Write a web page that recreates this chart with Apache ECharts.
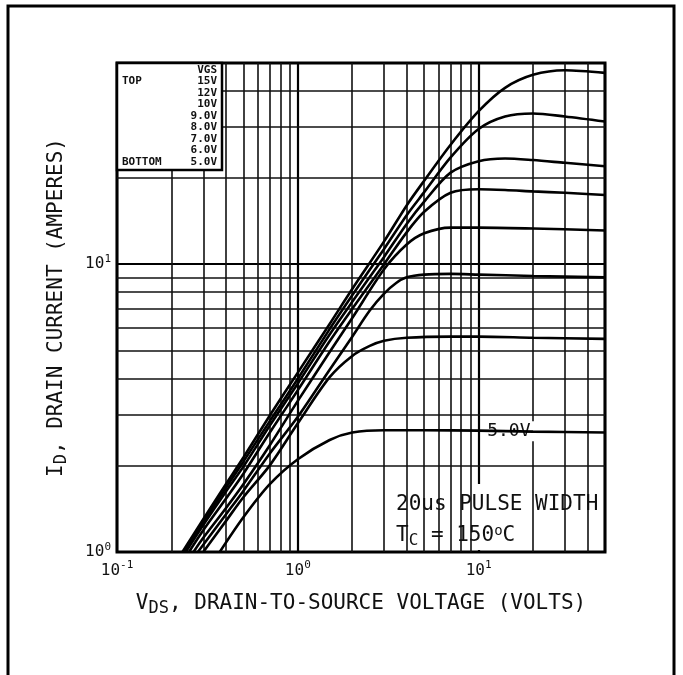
<!DOCTYPE html>
<html>
<head>
<meta charset="utf-8">
<script src="https://cdn.jsdelivr.net/npm/echarts@6/dist/echarts.min.js"></script>
<style>
  html, body { margin: 0; padding: 0; background: #fff; }
  #chart { width: 683px; height: 675px; }
</style>
</head>
<body>
<div id="chart"></div>
<script>
// minor grid lines (log decades are drawn by the axes)
const vdsGrid = [0.2, 0.3, 0.4, 0.5, 0.6, 0.7, 0.8, 0.9, 2, 3, 4, 5, 6, 7, 8, 9, 20, 30, 40];
const idGrid = [2, 3, 4, 5, 6, 7, 8, 9, 20, 30, 40];

const vgsLabels = ['15V', '12V', '10V', '9.0V', '8.0V', '7.0V', '6.0V', '5.0V'];

// [VDS, ID]
const vgs15 = [[0.23, 1], [0.3, 1.3], [0.4, 1.72], [0.5, 2.13], [0.7, 2.98], [1, 4.2], [1.5, 6.2], [2, 8.2], [3, 12], [4, 16], [5, 19.5], [7, 26], [10, 34], [14, 41], [20, 45.5], [30, 47.2], [50, 46.2]];
const vgs12 = [[0.235, 1], [0.3, 1.27], [0.4, 1.67], [0.5, 2.06], [0.7, 2.85], [1, 4.0], [1.5, 5.95], [2, 7.8], [3, 11.3], [4, 14.8], [5, 17.8], [7, 23.5], [10, 29.5], [14, 32.6], [20, 33.4], [30, 32.6], [50, 31.3]];
const vgs10 = [[0.24, 1], [0.3, 1.24], [0.4, 1.62], [0.5, 1.98], [0.7, 2.75], [1, 3.85], [1.5, 5.7], [2, 7.4], [3, 10.6], [4, 13.8], [5, 16.5], [7, 20.8], [10, 22.8], [14, 23.3], [20, 23], [30, 22.5], [50, 21.9]];
const vgs9 = [[0.25, 1], [0.3, 1.19], [0.4, 1.53], [0.5, 1.87], [0.7, 2.6], [1, 3.65], [1.5, 5.4], [2, 7.0], [3, 10.0], [4, 12.9], [5, 15.2], [7, 17.7], [10, 18.2], [14, 18.1], [20, 17.9], [30, 17.7], [50, 17.4]];
const vgs8 = [[0.265, 1], [0.3, 1.12], [0.4, 1.42], [0.5, 1.72], [0.7, 2.35], [1, 3.35], [1.5, 4.95], [2, 6.5], [3, 9.6], [4, 11.7], [5, 12.8], [7, 13.4], [10, 13.4], [20, 13.3], [50, 13.1]];
const vgs7 = [[0.28, 1], [0.4, 1.35], [0.5, 1.63], [0.7, 2.2], [1, 2.95], [1.5, 4.3], [2, 5.6], [2.5, 6.9], [3, 7.9], [3.5, 8.6], [4, 9.0], [5, 9.2], [7, 9.25], [10, 9.2], [20, 9.1], [50, 9.0]];
const vgs6 = [[0.3, 1], [0.4, 1.28], [0.5, 1.55], [0.7, 2.0], [1, 2.8], [1.5, 4.05], [2, 4.8], [2.5, 5.2], [3, 5.42], [4, 5.55], [7, 5.6], [10, 5.6], [20, 5.55], [50, 5.5]];
const vgs5 = [[0.37, 1], [0.5, 1.32], [0.7, 1.72], [1, 2.1], [1.5, 2.45], [2, 2.6], [3, 2.65], [5, 2.65], [10, 2.64], [20, 2.62], [50, 2.6]];

const curves = [vgs15, vgs12, vgs10, vgs9, vgs8, vgs7, vgs6, vgs5];

const FONT = '"DejaVu Sans Mono", monospace';

const powerLabel = v => {
    const e = Math.log10(v);
    if (Math.abs(e - Math.round(e)) > 1e-6) return '';
    return '{b|10}{sup|' + Math.round(e) + '}';
};

const labelRich = {
    b: { fontFamily: FONT, fontSize: 16, color: '#111' },
    sup: { fontFamily: FONT, fontSize: 11, color: '#111', padding: [0, 0, 10, 0] }
};

const nameRich = {
    n: { fontFamily: FONT, fontSize: 21, color: '#111' },
    sub: { fontFamily: FONT, fontSize: 17, color: '#111', padding: [10, 0, 0, 0] }
};

const chart = echarts.init(document.getElementById('chart'));

const lineSeries = curves.map((pts, i) => ({
    name: vgsLabels[i],
    type: 'line',
    data: pts,
    smooth: 0.3,
    showSymbol: false,
    z: 5,
    lineStyle: { color: '#000', width: 2.6 },
    markPoint: i === curves.length - 1 ? {
        silent: true,
        symbol: 'rect',
        symbolSize: [52, 20],
        itemStyle: { color: '#fff' },
        label: { show: true, formatter: '5.0V', fontFamily: FONT, fontSize: 18, color: '#111' },
        data: [{ coord: [14.7, 2.63] }]
    } : undefined
}));

chart.setOption({
    animation: false,
    backgroundColor: '#fff',
    grid: {
        left: 117,
        right: 78,
        top: 63,
        bottom: 123,
        show: true,
        backgroundColor: '#fff',
        borderColor: '#000',
        borderWidth: 3
    },
    xAxis: {
        type: 'log',
        logBase: 10,
        min: 0.1,
        max: 50,
        axisLine: { show: false },
        axisTick: { show: false },
        splitLine: { show: true, lineStyle: { color: '#000', width: 2.2 } },
        axisLabel: { formatter: powerLabel, rich: labelRich, margin: 8 },
        name: '{n|V}{sub|DS}{n|, DRAIN-TO-SOURCE VOLTAGE (VOLTS)}',
        nameLocation: 'middle',
        nameGap: 38,
        nameTextStyle: { rich: nameRich }
    },
    yAxis: {
        type: 'log',
        logBase: 10,
        min: 1,
        max: 50,
        axisLine: { show: false },
        axisTick: { show: false },
        splitLine: { show: true, lineStyle: { color: '#000', width: 2.2 } },
        axisLabel: { formatter: powerLabel, rich: labelRich, margin: 6 },
        name: '{n|I}{sub|D}{n|, DRAIN CURRENT (AMPERES)}',
        nameLocation: 'middle',
        nameGap: 47,
        nameTextStyle: { rich: nameRich }
    },
    series: [
        {
            type: 'line',
            data: [],
            z: 2,
            markLine: {
                silent: true,
                symbol: ['none', 'none'],
                label: { show: false },
                lineStyle: { type: 'solid', color: '#111', width: 1.6 },
                data: vdsGrid.map(v => ({ xAxis: v })).concat(idGrid.map(v => ({ yAxis: v })))
            }
        },
        ...lineSeries
    ],
    graphic: [
        // page frame
        {
            type: 'rect',
            shape: { x: 8, y: 6, width: 666, height: 700 },
            style: { fill: null, stroke: '#000', lineWidth: 3 },
            z: 100
        },
        // VGS table in the corner
        {
            type: 'rect',
            shape: { x: 117, y: 63, width: 105, height: 107 },
            style: { fill: '#fff', stroke: '#000', lineWidth: 2.5 },
            z: 50
        },
        {
            type: 'text', x: 217, y: 70, z: 51,
            style: { text: 'VGS', textAlign: 'right', textVerticalAlign: 'middle', font: 'bold 11px ' + FONT, fill: '#111' }
        },
        {
            type: 'text', x: 122, y: 81.5, z: 51,
            style: { text: 'TOP', textAlign: 'left', textVerticalAlign: 'middle', font: 'bold 11px ' + FONT, fill: '#111' }
        },
        {
            type: 'text', x: 122, y: 162, z: 51,
            style: { text: 'BOTTOM', textAlign: 'left', textVerticalAlign: 'middle', font: 'bold 11px ' + FONT, fill: '#111' }
        },
        ...vgsLabels.map((t, i) => ({
            type: 'text', x: 217, y: 81.5 + i * 11.5, z: 51,
            style: { text: t, textAlign: 'right', textVerticalAlign: 'middle', font: 'bold 11px ' + FONT, fill: '#111' }
        })),
        // test conditions
        {
            type: 'rect',
            shape: { x: 386, y: 484, width: 217, height: 66 },
            style: { fill: '#fff' },
            z: 3
        },
        {
            type: 'text', x: 396, y: 505, z: 4,
            style: { text: '20us PULSE WIDTH', textVerticalAlign: 'middle', font: '21px ' + FONT, fill: '#111' }
        },
        {
            type: 'text', x: 396, y: 536, z: 4,
            style: {
                text: '{n|T}{sub|C}{n| = 150}{sup|o}{n|C}',
                textVerticalAlign: 'middle',
                rich: {
                    n: { fontFamily: FONT, fontSize: 21, fill: '#111' },
                    sub: { fontFamily: FONT, fontSize: 16, fill: '#111', padding: [9, 0, 0, 0] },
                    sup: { fontFamily: FONT, fontSize: 14, fill: '#111', padding: [0, 0, 10, 0] }
                }
            }
        }
    ]
});
</script>
</body>
</html>
